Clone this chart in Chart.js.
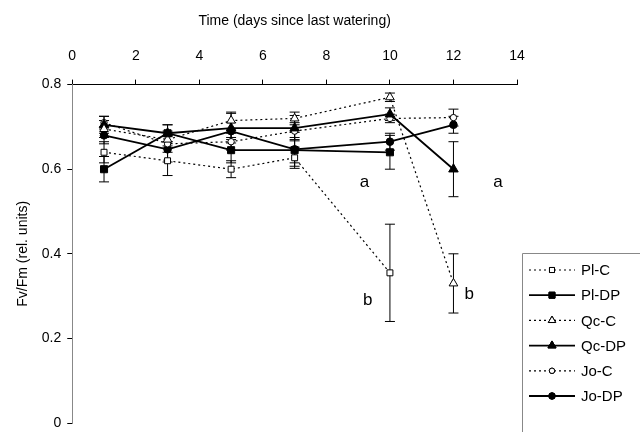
<!DOCTYPE html>
<html>
<head>
<meta charset="utf-8">
<script src="https://cdn.jsdelivr.net/npm/chart.js@4"></script>
<style>
  body { margin: 0; background: #fff; }
</style>
</head>
<body>
<canvas id="myChart" width="640" height="432"></canvas>
<script>
const days = [1, 3, 5, 7, 10, 12];
const seriesNames = ['Pl-C', 'Pl-DP', 'Qc-C', 'Qc-DP', 'Jo-C', 'Jo-DP'];

const plC  = [0.64, 0.62, 0.60, 0.627, 0.355, null];
const plDP = [0.60, 0.685, 0.645, 0.645, 0.64, null];
const qcC  = [0.695, 0.67, 0.715, 0.72, 0.77, 0.33];
const qcDP = [0.705, 0.685, 0.697, 0.697, 0.73, 0.60];
const joC  = [0.71, 0.66, 0.665, 0.69, 0.72, 0.722];
const joDP = [0.68, 0.647, 0.69, 0.647, 0.665, 0.705];

// standard errors
const plCErr  = [0.025, 0.035, 0.02, 0.025, 0.115, null];
const plDPErr = [0.03, 0.02, 0.03, 0.03, 0.04, null];
const qcCErr  = [0.02, 0.02, 0.02, 0.015, 0.01, 0.07];
const qcDPErr = [0.02, 0.02, 0.035, 0.03, 0.015, 0.065];
const joCErr  = [0.015, 0.02, 0.02, 0.02, 0.01, 0.02];
const joDPErr = [0.02, 0.03, 0.02, 0.04, 0.02, 0.02];

const xTicks = [0, 2, 4, 6, 8, 10, 12, 14];
const yTicks = [0, 0.2, 0.4, 0.6, 0.8];

// significance letters
const letters = ['a', 'a', 'b', 'b'];
const letterX = [9.2, 13.4, 9.3, 12.5];
const letterY = [0.57, 0.57, 0.29, 0.305];

const FONT = '"Liberation Sans", Arial, sans-serif';

function pts(vals) {
  return days.map((d, i) => ({ x: d, y: vals[i] }));
}

function ds(label, vals, errs, style, filled, radius, dashed) {
  return {
    label: label,
    data: pts(vals),
    errors: errs,
    borderColor: '#000',
    backgroundColor: filled ? '#000' : '#fff',
    borderWidth: dashed ? 1.2 : 1.8,
    borderDash: dashed ? [2, 3] : [],
    pointStyle: style,
    pointRadius: radius,
    pointBorderWidth: 1,
    pointBorderColor: '#000',
    pointBackgroundColor: filled ? '#000' : '#fff',
    showLine: true,
    tension: 0,
    fill: false
  };
}

const errorBars = {
  id: 'errorBars',
  beforeDatasetsDraw(chart) {
    const ctx = chart.ctx;
    const ys = chart.scales.y;
    ctx.save();
    ctx.strokeStyle = '#000';
    ctx.lineWidth = 1;
    chart.data.datasets.forEach((d, di) => {
      const meta = chart.getDatasetMeta(di);
      d.data.forEach((p, i) => {
        const e = d.errors[i];
        if (p.y == null || e == null) return;
        const px = meta.data[i].x;
        const top = ys.getPixelForValue(p.y + e);
        const bot = ys.getPixelForValue(p.y - e);
        ctx.beginPath();
        ctx.moveTo(px, top); ctx.lineTo(px, bot);
        ctx.moveTo(px - 5, top); ctx.lineTo(px + 5, top);
        ctx.moveTo(px - 5, bot); ctx.lineTo(px + 5, bot);
        ctx.stroke();
      });
    });
    ctx.restore();
  }
};

const extras = {
  id: 'extras',
  afterDraw(chart) {
    const ctx = chart.ctx;
    const xs = chart.scales.x, ys = chart.scales.y;
    ctx.save();
    ctx.fillStyle = '#000';
    ctx.font = '17px ' + FONT;
    ctx.textAlign = 'center';
    ctx.textBaseline = 'middle';
    letters.forEach((t, i) => {
      ctx.fillText(t, xs.getPixelForValue(letterX[i]), ys.getPixelForValue(letterY[i]));
    });

    // legend box
    const lx = 522, ly = 253;
    ctx.strokeStyle = '#888';
    ctx.lineWidth = 1;
    ctx.beginPath();
    ctx.moveTo(lx + 0.5, 432); ctx.lineTo(lx + 0.5, ly + 0.5); ctx.lineTo(640, ly + 0.5);
    ctx.stroke();
    ctx.font = '15px ' + FONT;
    ctx.textAlign = 'left';
    chart.data.datasets.forEach((d, i) => {
      const y = 270 + i * 25.2;
      ctx.strokeStyle = '#000';
      ctx.lineWidth = d.borderWidth;
      ctx.setLineDash(d.borderDash);
      ctx.beginPath();
      ctx.moveTo(529, y); ctx.lineTo(575, y);
      ctx.stroke();
      ctx.setLineDash([]);
      ctx.lineWidth = 1;
      Chart.helpers.drawPoint(ctx, {
        pointStyle: d.pointStyle,
        radius: d.pointRadius * 0.85,
        rotation: 0,
        borderWidth: 1
      }, 552, y);
      ctx.fillStyle = d.pointBackgroundColor;
      ctx.strokeStyle = '#000';
      ctx.fill();
      ctx.stroke();
      ctx.fillStyle = '#000';
      ctx.fillText(d.label, 581, y + 1);
    });
    ctx.restore();
  }
};

const ctx = document.getElementById('myChart').getContext('2d');
const myChart = new Chart(ctx, {
  type: 'line',
  data: {
    datasets: [
      ds(seriesNames[0], plC, plCErr, 'rect', false, 4.2, true),
      ds(seriesNames[1], plDP, plDPErr, 'rect', true, 5, false),
      ds(seriesNames[2], qcC, qcCErr, 'triangle', false, 5, true),
      ds(seriesNames[3], qcDP, qcDPErr, 'triangle', true, 5.5, false),
      ds(seriesNames[4], joC, joCErr, 'circle', false, 3.2, true),
      ds(seriesNames[5], joDP, joDPErr, 'circle', true, 3.8, false)
    ]
  },
  options: {
    responsive: false,
    animation: false,
    layout: { padding: { left: 15, right: 123, top: 13, bottom: 9 } },
    plugins: {
      legend: { display: false },
      tooltip: { enabled: false }
    },
    scales: {
      x: {
        type: 'linear',
        position: 'top',
        min: 0,
        max: 14,
        afterBuildTicks: (s) => { s.ticks = xTicks.map(v => ({ value: v })); },
        ticks: { color: '#000', font: { family: FONT, size: 14 }, padding: 15 },
        grid: { drawOnChartArea: false, color: '#000', tickLength: 5 },
        border: { color: '#000', width: 1 },
        title: {
          display: true,
          text: 'Time (days since last watering)',
          color: '#000',
          font: { family: FONT, size: 14 },
          padding: { top: 0, bottom: 3 }
        }
      },
      y: {
        min: 0,
        max: 0.8,
        afterBuildTicks: (s) => { s.ticks = yTicks.map(v => ({ value: v })); },
        afterFit: (s) => { s.paddingBottom = 0; s.paddingTop = 0; },
        ticks: {
          color: '#000',
          font: { family: FONT, size: 14 },
          padding: 6,
          callback: (v) => v === 0 ? '0' : v.toFixed(1)
        },
        grid: { drawOnChartArea: false, color: '#000', tickLength: 5 },
        border: { color: '#888', width: 1 },
        title: {
          display: true,
          text: 'Fv/Fm (rel. units)',
          color: '#000',
          font: { family: FONT, size: 14 },
          padding: { top: 0, bottom: 4 }
        }
      }
    }
  },
  plugins: [errorBars, extras]
});
</script>
</body>
</html>
